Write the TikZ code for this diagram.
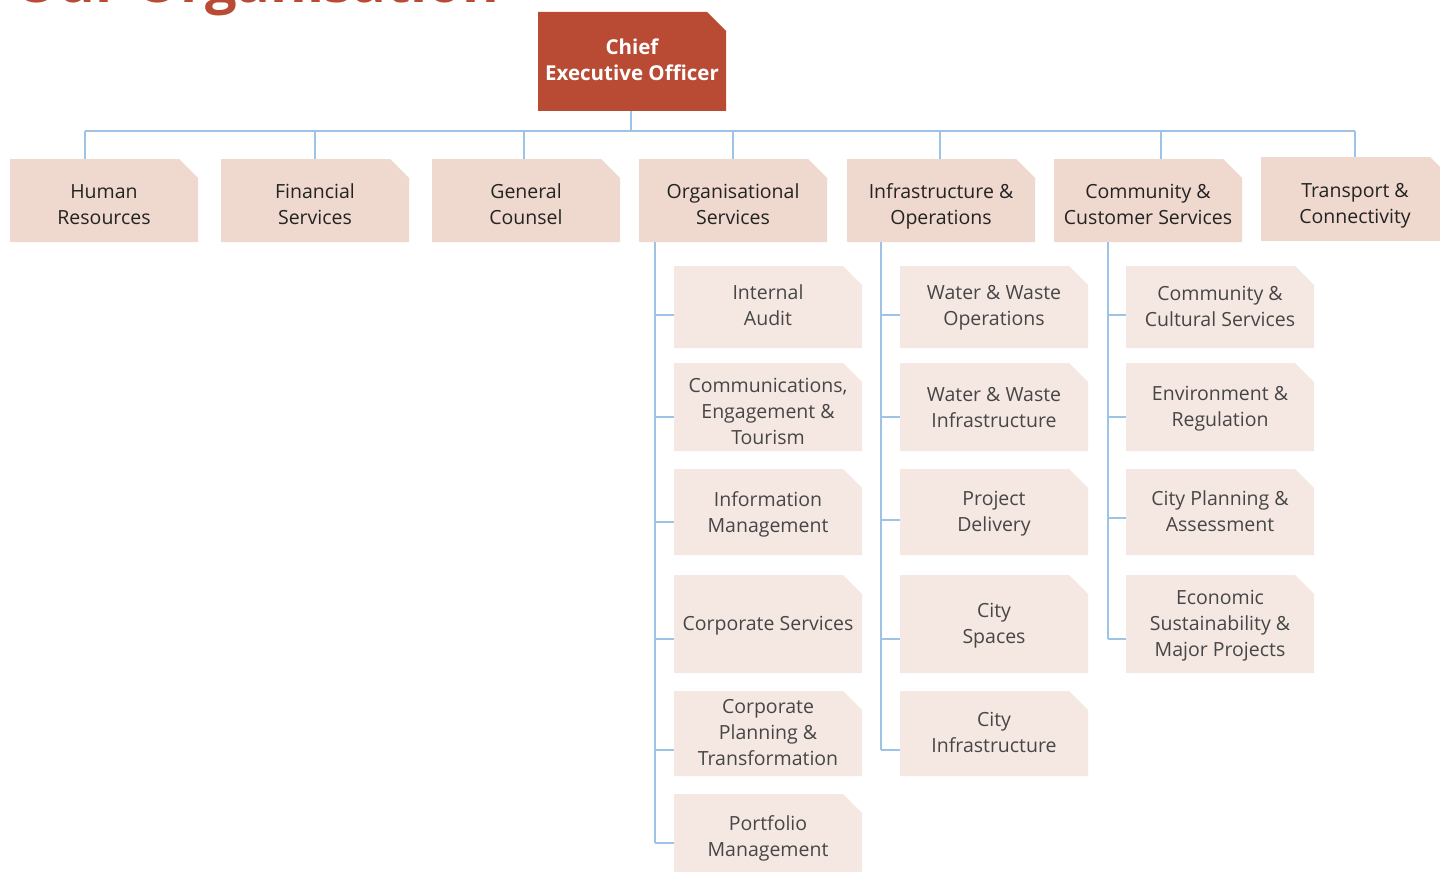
\documentclass[tikz,border=0pt]{standalone}
\usepackage{fontspec}
\setmainfont{Open Sans}
\definecolor{ceored}{RGB}{185,74,52}
\definecolor{topfill}{RGB}{239,216,205}
\definecolor{subfill}{RGB}{245,232,226}
\definecolor{lineblue}{RGB}{157,195,230}
\definecolor{toptext}{RGB}{35,35,35}
\definecolor{subtext}{RGB}{70,70,70}
\newcommand\cutbox[8][2]{%
  \fill[#7] (#3,#4) -- ({#5-19},#4) -- (#5,{#4+19}) -- (#5,#6) -- (#3,#6) -- cycle;
  \node[boxshape, minimum width={(#5-#3)*1pt}, minimum height={(#6-#4)*1pt}] (#2) at ({(#3+#5)/2},{(#4+#6)/2}) {};
  \node[boxtext] (#2-text) at ([yshift=-#1pt]#2.center) {#8};}
\begin{document}
\begin{tikzpicture}[x=1pt,y=-1pt,
  conn/.style={draw=lineblue, line width=1.6pt},
  boxshape/.style={rectangle, inner sep=0pt},
  boxtext/.style={rectangle, inner sep=0pt, align=center, text=subtext, font=\fontsize{19.5}{26}\selectfont},
  ceotext/.style={boxtext, text=white, font=\fontsize{20.5}{26}\selectfont\bfseries}]
\useasboundingbox (0,0) rectangle (1440,872);
\clip (0,0) rectangle (1440,872);
% title (cut off at top)
\node[anchor=base west, inner sep=0pt, text=ceored, font=\fontsize{56}{60}\selectfont\bfseries] (title) at (14,3) {Our Organisation};
% CEO
\fill[ceored] (538,12) -- (707,12) -- (726,31) -- (726,111) -- (538,111) -- cycle;
\node[boxshape, minimum width=188pt, minimum height=99pt] (ceo) at (632,61.5) {};
\node[ceotext] (ceo-text) at ([yshift=2pt]ceo.center) {Chief\\Executive Officer};
% top row
\tikzset{boxtext/.append style={text=toptext}}
\cutbox[4]{hr}{10}{159}{198}{242}{topfill}{Human\\Resources}
\cutbox[4]{fs}{221}{159}{409}{242}{topfill}{Financial\\Services}
\cutbox[4]{gc}{432}{159}{620}{242}{topfill}{General\\Counsel}
\cutbox[4]{os}{639}{159}{827}{242}{topfill}{Organisational\\Services}
\cutbox[6]{io}{847}{159}{1035}{242}{topfill}{Infrastructure \&\\Operations}
\cutbox[4]{cs}{1054}{159}{1242}{242}{topfill}{Community \&\\Customer Services}
\cutbox[7]{tc}{1261}{157}{1449}{241}{topfill}{Transport \&\\Connectivity}
\tikzset{boxtext/.append style={text=subtext}}
% Organisational Services column
\cutbox[-2]{ia}{674}{266}{862}{348}{subfill}{Internal\\Audit}
\cutbox[4]{cet}{674}{363}{862}{451}{subfill}{Communications,\\Engagement \&\\Tourism}
\cutbox{im}{674}{469}{862}{555}{subfill}{Information\\Management}
\cutbox{cps}{674}{575}{862}{673}{subfill}{Corporate Services}
\cutbox[-1]{cpt}{674}{691}{862}{776}{subfill}{Corporate\\Planning \&\\Transformation}
\cutbox{pm}{674}{794}{862}{878}{subfill}{Portfolio\\Management}
% Infrastructure & Operations column
\cutbox[1]{wwo}{900}{266}{1088}{348}{subfill}{Water \& Waste\\Operations}
\cutbox[1]{wwi}{900}{363}{1088}{451}{subfill}{Water \& Waste\\Infrastructure}
\cutbox{pd}{900}{469}{1088}{555}{subfill}{Project\\Delivery}
\cutbox{csp}{900}{575}{1088}{673}{subfill}{City\\Spaces}
\cutbox[-1]{ci}{900}{691}{1088}{776}{subfill}{City\\Infrastructure}
% Community & Customer Services column
\cutbox[-1]{ccs}{1126}{266}{1314}{348}{subfill}{Community \&\\Cultural Services}
\cutbox{er}{1126}{363}{1314}{451}{subfill}{Environment \&\\Regulation}
\cutbox[-1]{cpa}{1126}{469}{1314}{555}{subfill}{City Planning \&\\Assessment}
\cutbox{esm}{1126}{575}{1314}{673}{subfill}{Economic\\Sustainability \&\\Major Projects}
% bus
\coordinate (bus) at (631,131);
\draw[conn] (bus |- ceo.south) -- (bus);
\coordinate (bL) at (85,131);
\coordinate (bR) at (1355,131);
\draw[conn] (bL) -- (bR);
\foreach \n/\x in {hr/85, fs/315, gc/524, os/733, io/940, cs/1161, tc/1355}{
  \coordinate (d\n) at (\x,131);
  \draw[conn] (d\n) -- (d\n |- \n.north);
}
% trunks
\foreach \p/\x/\last in {os/655/843, io/881/750, cs/1108/639}{
  \coordinate (t\p) at (\x,\last);
  \draw[conn] (t\p |- \p.south) -- (t\p);
}
\foreach \c/\x/\y in {ia/655/315, cet/655/417, im/655/522, cps/655/639, cpt/655/750, pm/655/843,
  wwo/881/315, wwi/881/417, pd/881/520, csp/881/639, ci/881/750,
  ccs/1108/315, er/1108/417, cpa/1108/518, esm/1108/639}{
  \coordinate (s\c) at (\x,\y);
  \draw[conn] (s\c) -- (s\c -| \c.west);
}
\end{tikzpicture}
\end{document}
